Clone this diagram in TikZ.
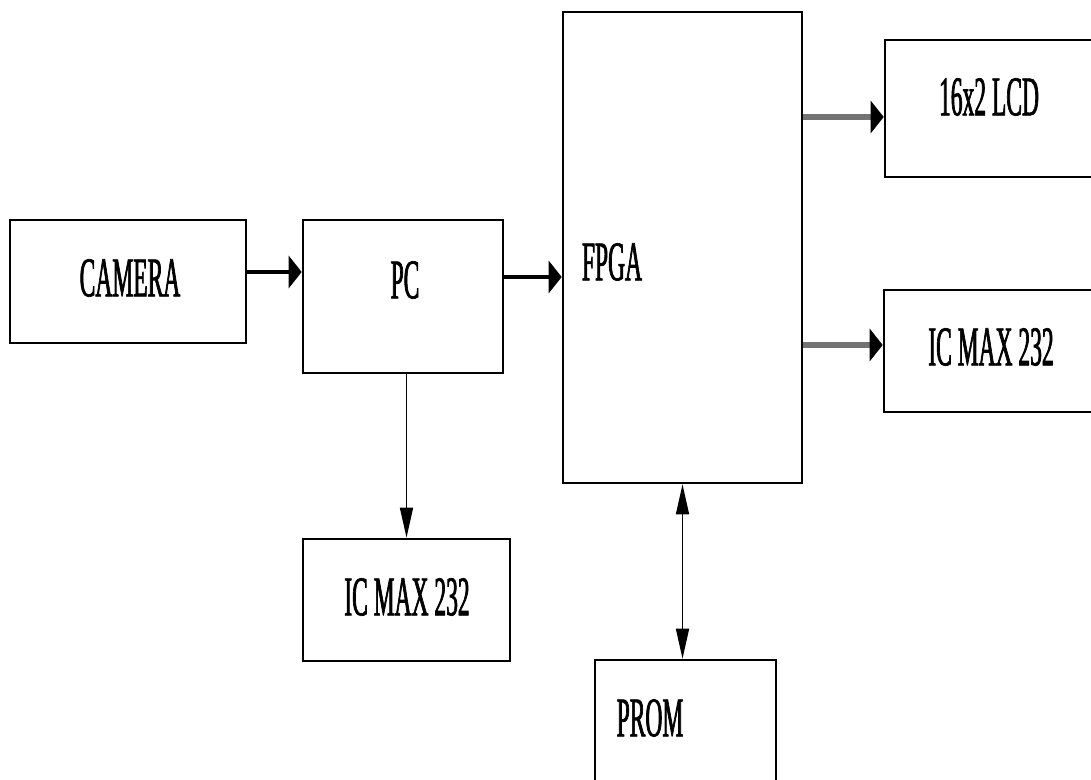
\documentclass[tikz,border=0pt]{standalone}
\usepackage{fontspec}
\newfontfamily\narrowserif[FakeStretch=0.42, FakeBold=1.2]{Liberation Serif}
\usetikzlibrary{arrows.meta,calc}

\tikzset{
    blk/.style={draw, line width=1.3pt, inner sep=0pt},
    lbl/.style={font=\narrowserif\fontsize{28}{30}\selectfont, inner sep=0pt},
    harr/.style={line width=2pt, -{Triangle[length=6.5pt, width=16pt]}},
    garr/.style={draw=black!55, line width=2.6pt, -{Triangle[length=6.5pt, width=16pt, color=black]}},
    varr/.style={line width=0.8pt, -{Triangle[length=15pt, width=6.5pt]}},
    darr/.style={line width=0.8pt, {Triangle[length=15pt, width=6.5pt]}-{Triangle[length=15pt, width=6.5pt]}},
}

\begin{document}
\begin{tikzpicture}[x=0.5pt, y=-0.5pt]
        \useasboundingbox (0,0) rectangle (1091,780);
        \clip (0,0) rectangle (1091,780);

        % Blocks
        \node[blk, minimum width=118pt, minimum height=61.5pt] (camera) at (128,281.5) {};
        \node[blk, minimum width=100pt, minimum height=76.5pt] (pc) at (403,296.5) {};
        \node[blk, minimum width=119.5pt, minimum height=235.5pt] (fpga) at (682.5,247.5) {};
        \node[blk, minimum width=105pt, minimum height=68.5pt] (lcd) at (990,108.5) {};
        \node[blk, minimum width=105pt, minimum height=61pt] (icright) at (989,351) {};
        \node[blk, minimum width=103.5pt, minimum height=61pt] (icbottom) at (406.5,600) {};
        \node[blk, minimum width=90.5pt, minimum height=80pt] (prom) at (685.5,740) {};

        % Labels
        \node[lbl] (cameratxt) at (130,278) {CAMERA};
        \node[lbl] (pctxt) at (405,280) {PC};
        \node[lbl] (fpgatxt) at (612,262) {FPGA};
        \node[lbl] (lcdtxt) at (989,97) {16x2 LCD};
        \node[lbl] (icrighttxt) at (991,347) {IC MAX 232};
        \node[lbl] (icbottomtxt) at (407,597) {IC MAX 232};
        \node[lbl] (promtxt) at (650,718) {PROM};

        % Connections
        \draw[harr] ($(camera.east)+(0,-9.5)$) -- ($(camera.east -| pc.west)+(0,-9.5)$);
        \draw[harr] ($(pc.east)+(0,-19.5)$) -- ($(pc.east -| fpga.west)+(0,-19.5)$);
        \draw[garr] ($(fpga.east |- lcd.west)+(0,8.5)$) -- ($(lcd.west)+(0,8.5)$);
        \draw[garr] ($(fpga.east |- icright.west)+(0,-6)$) -- ($(icright.west)+(0,-6)$);
        \draw[varr] (icbottom.north |- pc.south) -- (icbottom.north);
        \draw[darr] (fpga.south) -- (fpga.south |- prom.north);
    \end{tikzpicture}
\end{document}
